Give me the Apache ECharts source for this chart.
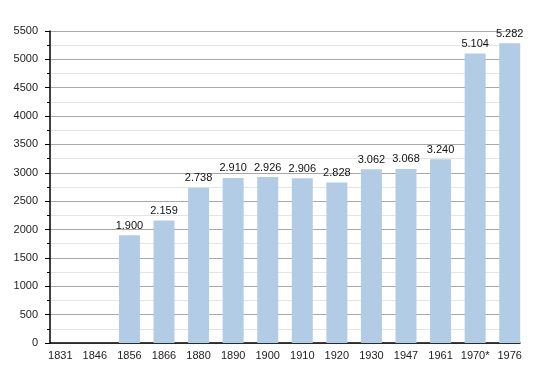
<!DOCTYPE html>
<html><head><meta charset="utf-8">
<script src="https://cdn.jsdelivr.net/npm/echarts@6/dist/echarts.min.js"></script>
<style>html,body{margin:0;padding:0;background:#fff}#c{width:550px;height:373px}</style>
</head><body><div id="c"></div>
<script>
const categories = ['1831','1846','1856','1866','1880','1890','1900','1910','1920','1930','1947','1961','1970*','1976'];
const population = [null,null,1900,2159,2738,2910,2926,2906,2828,3062,3068,3240,5104,5282];
const yMax = 5500, yStep = 500;
const chart = echarts.init(document.getElementById('c'));
const fmt = v => { const s = String(v); return s.length > 3 ? s.slice(0, s.length-3) + '.' + s.slice(-3) : s; };
const font = 'Liberation Sans, Arial';
chart.setOption({
  animation:false,
  grid:[{left:50,right:30,top:31,bottom:30},{left:43,right:23,top:31,bottom:30}],
  xAxis:[
    {gridIndex:0,type:'value',min:0,max:1,
      axisLine:{show:true,onZero:false,lineStyle:{color:'#000',width:1.5}},
      axisTick:{show:false},axisLabel:{show:false},splitLine:{show:false}},
    {gridIndex:1,type:'category',data:categories,
      axisLine:{show:false},axisTick:{show:false},
      axisLabel:{interval:0,color:'#222',fontSize:11,fontFamily:font,margin:7}}
  ],
  yAxis:[
    {gridIndex:0,type:'value',min:0,max:yMax,interval:yStep,
      axisLine:{show:true,lineStyle:{color:'#000',width:1.5}},
      axisTick:{show:true,length:5,lineStyle:{color:'#000'}},
      minorTick:{show:true,splitNumber:2,length:3,lineStyle:{color:'#000'}},
      splitLine:{lineStyle:{color:'#a8a8a8',width:1}},
      minorSplitLine:{show:true,lineStyle:{color:'#e4e4e4',width:1}},
      axisLabel:{color:'#222',fontSize:11,fontFamily:font,margin:12,formatter:v=>String(v)}},
    {gridIndex:1,type:'value',min:0,max:yMax,show:false,splitLine:{show:false}}
  ],
  series:[{type:'bar',xAxisIndex:1,yAxisIndex:1,data:population,barWidth:21,
    itemStyle:{color:'#b3cce6'},
    label:{show:true,position:'top',color:'#111',fontSize:11,fontFamily:font,distance:4,
      formatter:p=>p.value==null?'':fmt(p.value)}}]
});
</script></body></html>
